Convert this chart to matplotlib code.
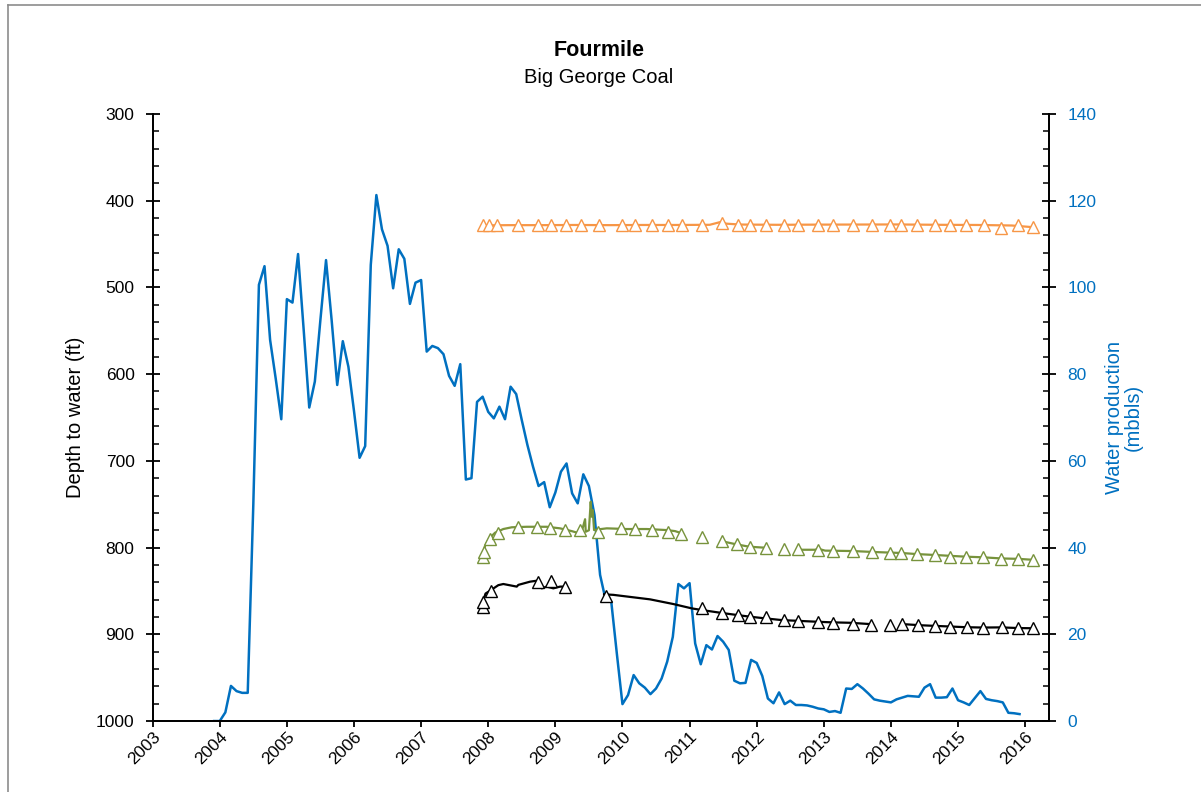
import numpy as np
import pandas as pd
import matplotlib
matplotlib.use("Agg")
import matplotlib.pyplot as plt
from matplotlib.ticker import MultipleLocator
from matplotlib.lines import Line2D

plt.rcParams['font.family'] = ['Liberation Sans', 'DejaVu Sans']

BLUE = '#0070C0'
ORANGE = '#F79646'
GREEN = '#77933C'

# Monthly water production (mbbls), Dec 2003 - Dec 2015
prod_months = pd.date_range('2003-12-01', '2015-12-01', freq='MS')
water_prod = [
    0, 0, 2.0, 8.1, 6.9, 6.5, 6.5, 50, 100.6, 104.9,
    87.9, 79.0, 69.6, 97.3, 96.5, 107.7, 90.3, 72.3, 78.3, 92.6,
    106.3, 92.5, 77.5, 87.6, 81.7, 71.5, 60.7, 63.4, 105.2, 121.3,
    113.4, 109.6, 99.8, 108.8, 106.6, 96.2, 101.1, 101.7, 85.2, 86.5,
    86.0, 84.6, 79.6, 77.3, 82.3, 55.7, 56.0, 73.6, 74.8, 71.3,
    69.8, 72.5, 69.6, 77.1, 75.4, 69.4, 63.7, 58.7, 54.2, 55.1,
    49.3, 52.7, 57.5, 59.4, 52.5, 50.2, 56.9, 54.2, 47.5, 33.7,
    27.9, 27.5, 15.5, 3.9, 6.0, 10.6, 8.7, 7.7, 6.2, 7.5,
    9.8, 13.7, 19.4, 31.6, 30.6, 31.8, 17.9, 13.1, 17.5, 16.5,
    19.6, 18.3, 16.4, 9.3, 8.7, 8.8, 14.1, 13.4, 10.4, 5.2,
    4.1, 6.6, 3.9, 4.7, 3.7, 3.7, 3.6, 3.3, 2.9, 2.7,
    2.1, 2.3, 1.9, 7.5, 7.4, 8.5, 7.5, 6.3, 5.0, 4.7,
    4.5, 4.3, 5.0, 5.4, 5.8, 5.7, 5.6, 7.7, 8.5, 5.4,
    5.4, 5.5, 7.5, 4.8, 4.3, 3.7, 5.3, 6.9, 5.1, 4.8,
    4.6, 4.3, 1.9, 1.8, 1.6,
]
prod_t = prod_months.year + (prod_months.month - 1) / 12.0

# Continuous water-level records (decimal year, depth ft); NaN splits gaps
orange_t = [2007.92, 2008.3, 2008.8, 2009.3, 2009.8, 2010.3, 2010.8, 2011.3, 2011.45,
            2011.55, 2011.75, 2012.3, 2012.9, 2013.5, 2014.1, 2014.7, 2015.3, 2015.8, 2016.11]
orange_d = [428.5, 428.2, 428.2, 428.0, 428.2, 428.0, 428.0, 427.8, 424.8,
            426.5, 427.5, 427.8, 427.6, 427.5, 427.4, 427.8, 428.0, 428.6, 430.5]

green_t = [2007.918, 2007.952, 2008.016, 2008.101, 2008.225, 2008.35, 2008.574, 2008.872,
           2009.07, 2009.244, 2009.328, 2009.393, 2009.443, 2009.453, 2009.50, 2009.527,
           2009.542, 2009.557, 2009.577, 2009.641, 2009.766, 2010.064, 2010.362, 2010.66,
           2010.784, 2010.859, np.nan,
           2011.47, 2011.70, 2011.89, 2012.14, np.nan,
           2012.62, 2012.87, 2012.92, 2013.02, 2013.44, 2013.72, 2013.99, 2014.15, 2014.39,
           2014.65, 2014.88, 2015.12, 2015.37, 2015.64, 2015.90, 2016.10]
green_d = [810.6, 798.2, 789.3, 782.9, 778.6, 776.6, 776.0, 776.0,
           777.8, 781.0, 782.9, 781.7, 767.3, 781.7, 780.0, 747.1,
           764.4, 756.7, 779.8, 779.0, 777.8, 778.6, 778.6, 779.8,
           781.0, 782.9, np.nan,
           792.5, 796.3, 799.0, 800.2, np.nan,
           802.5, 802.5, 801.5, 803.5, 804.0, 805.0, 805.8, 806.2, 807.5,
           808.5, 809.5, 810.5, 811.2, 812.5, 813.0, 814.0]

black_t = [2007.92, 2007.96, 2008.027, 2008.151, 2008.225, 2008.425, 2008.449, 2008.623,
           2008.723, 2008.797, 2008.872, 2008.970, 2009.070, 2009.170, np.nan,
           2009.726, 2009.864, 2010.412, 2010.759, 2011.033, 2011.182, 2011.455, 2011.703,
           2011.902, 2012.125, 2012.374, 2012.598, 2012.896, 2013.119, 2013.392, 2013.690,
           2013.72, np.nan,
           2014.23, 2014.43, 2014.66, 2014.88, 2015.12, 2015.37, 2015.64, 2015.90, 2016.10]
black_d = [862.4, 853.0, 849.7, 843.3, 842.0, 845.0, 843.0, 839.3,
           838.2, 847.0, 845.0, 847.0, 845.0, 845.0, np.nan,
           853.9, 854.5, 859.7, 865.1, 870.1, 872.0, 875.1, 877.7,
           879.7, 881.6, 883.6, 884.4, 885.5, 886.2, 886.7, 888.2,
           889.0, np.nan,
           888.5, 889.5, 890.3, 891.0, 891.8, 892.2, 892.0, 892.8, 893.0]

# Manual depth-to-water measurements
orange_mt = [2007.92, 2008.01, 2008.13, 2008.44, 2008.74, 2008.94, 2009.16, 2009.38, 2009.65,
             2009.99, 2010.19, 2010.44, 2010.68, 2010.89, 2011.19, 2011.48, 2011.72, 2011.90,
             2012.14, 2012.41, 2012.62, 2012.92, 2013.14, 2013.44, 2013.72, 2013.99, 2014.15,
             2014.39, 2014.65, 2014.88, 2015.12, 2015.38, 2015.64, 2015.90, 2016.11]
orange_md = [427.5, 428, 428, 428, 428, 428, 428, 428, 428,
             428, 428, 428, 428, 428, 428, 426, 428, 428,
             428, 428, 428, 428, 428, 428, 428, 428, 428,
             428, 428, 428, 428, 428, 431, 428, 430.5]

green_mt = [2007.92, 2007.94, 2008.03, 2008.15, 2008.45, 2008.73, 2008.92, 2009.15, 2009.37,
            2009.64, 2009.98, 2010.18, 2010.44, 2010.68, 2010.87, 2011.18, 2011.48, 2011.71,
            2011.90, 2012.14, 2012.41, 2012.62, 2012.92, 2013.14, 2013.44, 2013.72, 2013.99,
            2014.15, 2014.39, 2014.65, 2014.88, 2015.12, 2015.37, 2015.64, 2015.90, 2016.11]
green_md = [810.6, 804.8, 790.5, 783.6, 776.0, 776.6, 777.1, 779.8, 779.8,
            781.7, 777.8, 778.6, 779.8, 781.7, 784.7, 787.5, 792.5, 796.3,
            799.0, 800.2, 802.0, 802.0, 802.8, 804.0, 804.0, 804.8, 805.9,
            806.6, 807.8, 808.6, 810.5, 810.5, 811.2, 813.2, 813.2, 814.4]

black_mt = [2007.92, 2007.92, 2008.04, 2008.74, 2008.93, 2009.15, 2009.75, 2011.19, 2011.48,
            2011.72, 2011.90, 2012.14, 2012.41, 2012.62, 2012.91, 2013.14, 2013.43, 2013.71,
            2013.99, 2014.16, 2014.40, 2014.65, 2014.88, 2015.13, 2015.37, 2015.65, 2015.90,
            2016.11]
black_md = [868.0, 862.4, 850.0, 839.3, 838.2, 845.5, 855.5, 870.1, 875.1,
            878.2, 879.7, 880.5, 883.6, 884.4, 885.5, 886.7, 888.2, 889.3,
            889.7, 888.2, 889.3, 890.5, 891.3, 892.0, 892.4, 891.3, 893.2,
            893.2]

year_ticks = list(range(2003, 2017))

fig = plt.figure(figsize=(12.01, 7.92), dpi=100)
ax = fig.add_axes([0.1271, 0.0896, 0.7466, 0.7665])
ax2 = ax.twinx()
ax.set_zorder(ax2.get_zorder() + 1)
ax.patch.set_visible(False)

# Water production on the secondary axis
ax2.plot(prod_t, water_prod, color=BLUE, lw=1.8, solid_joinstyle='round')
ax2.set_ylim(0, 140)
ax2.yaxis.set_major_locator(MultipleLocator(20))
ax2.yaxis.set_minor_locator(MultipleLocator(4))

# Depth to water on the primary axis
for t, d, c in [(orange_t, orange_d, ORANGE), (green_t, green_d, GREEN), (black_t, black_d, 'black')]:
    ax.plot(t, d, color=c, lw=1.6, zorder=2)
for t, d, c in [(orange_mt, orange_md, ORANGE), (green_mt, green_md, GREEN), (black_mt, black_md, 'black')]:
    ax.plot(t, d, ls='none', marker='^', ms=9, mfc='white', mec=c, mew=1.0, zorder=3)

ax.set_ylim(1000, 300)
ax.yaxis.set_major_locator(MultipleLocator(100))
ax.yaxis.set_minor_locator(MultipleLocator(20))
ax.set_xlim(2003, 2016.36)
ax.set_xticks(year_ticks)
ax.set_xticklabels([str(y) for y in year_ticks], rotation=45, ha='right',
                   rotation_mode='anchor', fontsize=12.5)

for a in (ax, ax2):
    a.spines['top'].set_visible(False)
    for s in a.spines.values():
        s.set_linewidth(1.3)

ax.tick_params(axis='y', which='major', direction='inout', length=10, width=1.3,
               labelsize=12.5, pad=8)
ax.tick_params(axis='y', which='minor', direction='in', length=4, width=1.1)
ax.tick_params(axis='x', which='major', direction='out', length=4, width=1.3, pad=2)
ax2.tick_params(axis='y', which='major', direction='inout', length=10, width=1.3,
                labelsize=12.5, labelcolor=BLUE, pad=8)
ax2.tick_params(axis='y', which='minor', direction='in', length=4, width=1.1)

ax.set_ylabel('Depth to water (ft)', fontsize=14.5, labelpad=8)
ax2.set_ylabel('Water production\n(mbbls)', fontsize=14.5, color=BLUE, labelpad=6,
               linespacing=1.0)

fig.text(0.4985, 0.936, 'Fourmile', ha='center', va='center', fontsize=15.5, fontweight='bold')
fig.text(0.4985, 0.902, 'Big George Coal', ha='center', va='center', fontsize=14.5)

# Chart-area frame
fig.add_artist(Line2D([8 / 1201, 8 / 1201], [0, 1 - 5 / 792], transform=fig.transFigure,
                      color='#8c8c8c', lw=1.2))
fig.add_artist(Line2D([8 / 1201, 1], [1 - 5 / 792, 1 - 5 / 792], transform=fig.transFigure,
                      color='#8c8c8c', lw=1.2))

fig.savefig('out.png', dpi=100)
